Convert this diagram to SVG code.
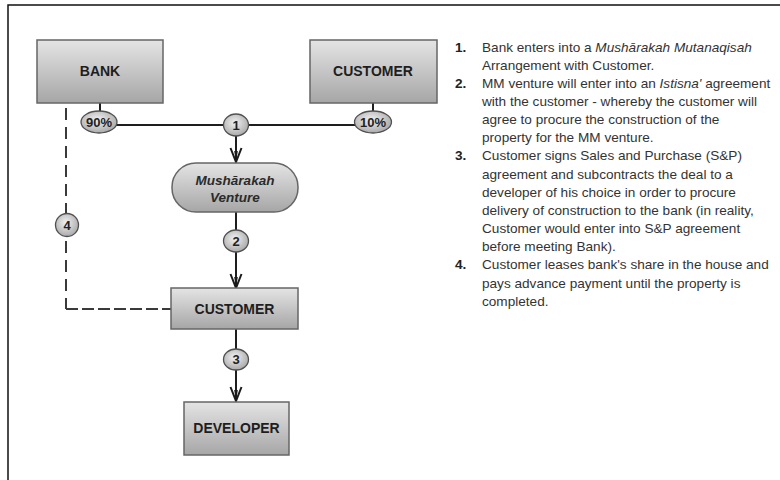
<svg xmlns="http://www.w3.org/2000/svg" width="780" height="480" viewBox="0 0 780 480">
  <defs>
    <linearGradient id="boxFill" x1="0" y1="0" x2="0" y2="1">
      <stop offset="0" stop-color="#e4e4e4"/>
      <stop offset="1" stop-color="#a6a6a6"/>
    </linearGradient>
    <radialGradient id="badgeFill" cx="0.45" cy="0.4" r="0.65">
      <stop offset="0" stop-color="#f2f2f2"/>
      <stop offset="1" stop-color="#a4a4a4"/>
    </radialGradient>
    <marker id="arrow" viewBox="-16 -8 18 16" refX="0" refY="0" markerWidth="18" markerHeight="16" markerUnits="userSpaceOnUse" orient="auto">
      <path d="M -14 -5.5 L 0 0 L -14 5.5" fill="none" stroke="#1a1a1a" stroke-width="2"/>
      <path d="M -11 -1.8 L 0 0 L -11 1.8 Z" fill="#1a1a1a"/>
    </marker>
    <style>
      .box { fill: url(#boxFill); stroke: #666; stroke-width: 1.5; }
      .badge { fill: url(#badgeFill); stroke: #505050; stroke-width: 1.3; }
      .line { fill: none; stroke: #1e1e1e; stroke-width: 2; }
      .dash { fill: none; stroke: #3a3a3a; stroke-width: 2; }
      .label { font-family: "Liberation Sans", Arial, sans-serif; font-weight: bold; font-size: 14px; fill: #1e1e1e; text-anchor: middle; }
      .venture { font-family: "Liberation Sans", Arial, sans-serif; font-weight: bold; font-style: italic; font-size: 13.5px; fill: #2a2a2a; text-anchor: middle; }
      .tag { font-family: "Liberation Sans", Arial, sans-serif; font-weight: bold; font-size: 13px; fill: #222; text-anchor: middle; }
      .notes { font-family: "Liberation Sans", Arial, sans-serif; font-size: 13.6px; fill: #333; }
      .num { font-weight: bold; fill: #222; }
      .it { font-style: italic; }
    </style>
  </defs>

  <rect x="0" y="0" width="780" height="480" fill="#ffffff"/>

  <!-- frame edges -->
  <path d="M 8 480 L 8 5 L 780 5" fill="none" stroke="#111" stroke-width="1.5"/>

  <!-- connectors -->
  <g id="connectors">
    <path class="line" d="M 100 103 L 100 112"/>
    <path class="line" d="M 373 103 L 373 112"/>
    <path class="line" d="M 116 125 L 356 125"/>
    <path class="line" d="M 236 136 L 236 162" marker-end="url(#arrow)"/>
    <path class="line" d="M 236 212 L 236 230"/>
    <path class="line" d="M 236 252 L 236 288" marker-end="url(#arrow)"/>
    <path class="line" d="M 236 329 L 236 349"/>
    <path class="line" d="M 236 370 L 236 401" marker-end="url(#arrow)"/>
    <path class="dash" d="M 66 108 L 66 309" stroke-dasharray="12 7"/>
    <path class="dash" d="M 66 309 L 171 309" stroke-dasharray="12 4"/>
  </g>

  <!-- nodes -->
  <g id="bank">
    <rect class="box" x="37" y="40" width="126" height="63"/>
    <text class="label" x="100" y="76">BANK</text>
  </g>
  <g id="customer-top">
    <rect class="box" x="310" y="40" width="127" height="63"/>
    <text class="label" x="373" y="76">CUSTOMER</text>
  </g>
  <g id="share-bank">
    <ellipse class="badge" cx="99" cy="122" rx="18" ry="11"/>
    <text class="tag" x="99" y="126.5">90%</text>
  </g>
  <g id="share-customer">
    <ellipse class="badge" cx="373" cy="122" rx="18.5" ry="11"/>
    <text class="tag" x="373" y="126.5">10%</text>
  </g>
  <g id="step-1">
    <ellipse class="badge" cx="236" cy="125" rx="12.5" ry="11"/>
    <text class="tag" x="236" y="129.5">1</text>
  </g>
  <g id="venture">
    <rect class="box" x="172" y="163" width="126" height="49" rx="24" ry="24"/>
    <text class="venture" x="235" y="185">Mushārakah</text>
    <text class="venture" x="235" y="202">Venture</text>
  </g>
  <g id="step-2">
    <ellipse class="badge" cx="236" cy="241" rx="12.5" ry="11"/>
    <text class="tag" x="236" y="245.5">2</text>
  </g>
  <g id="customer-mid">
    <rect class="box" x="171" y="288" width="127" height="41"/>
    <text class="label" x="234.5" y="313.5">CUSTOMER</text>
  </g>
  <g id="step-3">
    <ellipse class="badge" cx="236" cy="359.5" rx="12.5" ry="10.5"/>
    <text class="tag" x="236" y="364">3</text>
  </g>
  <g id="developer">
    <rect class="box" x="184" y="402" width="105" height="53"/>
    <text class="label" x="236.5" y="433">DEVELOPER</text>
  </g>
  <g id="step-4">
    <ellipse class="badge" cx="67" cy="225" rx="11.5" ry="11.5"/>
    <text class="tag" x="67" y="229.5">4</text>
  </g>

  <!-- numbered notes -->
  <g id="notes" class="notes">
    <text x="455" y="51.5" class="num">1.</text>
    <text x="482" y="51.5">Bank enters into a <tspan class="it">Mushārakah Mutanaqisah</tspan></text>
    <text x="482" y="69.7">Arrangement with Customer.</text>
    <text x="455" y="87.8" class="num">2.</text>
    <text x="482" y="87.8">MM venture will enter into an <tspan class="it">Istisna'</tspan> agreement</text>
    <text x="482" y="106">with the customer - whereby the customer will</text>
    <text x="482" y="124.1">agree to procure the construction of the</text>
    <text x="482" y="142.3">property for the MM venture.</text>
    <text x="455" y="160.4" class="num">3.</text>
    <text x="482" y="160.4">Customer signs Sales and Purchase (S&amp;P)</text>
    <text x="482" y="178.6">agreement and subcontracts the deal to a</text>
    <text x="482" y="196.7">developer of his choice in order to procure</text>
    <text x="482" y="214.9">delivery of construction to the bank (in reality,</text>
    <text x="482" y="233">Customer would enter into S&amp;P agreement</text>
    <text x="482" y="251.2">before meeting Bank).</text>
    <text x="455" y="269.3" class="num">4.</text>
    <text x="482" y="269.3">Customer leases bank's share in the house and</text>
    <text x="482" y="287.5">pays advance payment until the property is</text>
    <text x="482" y="305.6">completed.</text>
  </g>
</svg>
